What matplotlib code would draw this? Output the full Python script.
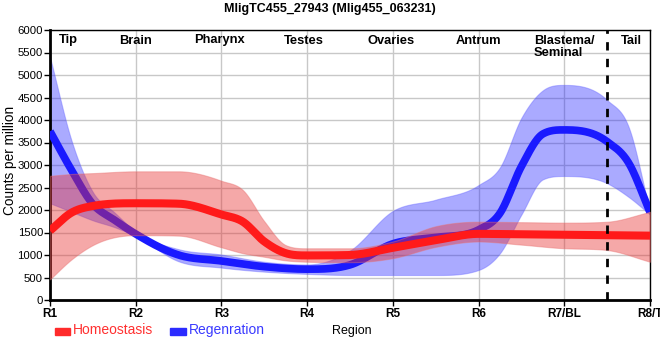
import numpy as np
import matplotlib
matplotlib.use("Agg")
import matplotlib.pyplot as plt
from matplotlib.patches import Rectangle

plt.rcParams['font.family'] = ['Liberation Sans', 'DejaVu Sans']

# ---- data ----
tick_labels = ["R1", "R2", "R3", "R4", "R5", "R6", "R7/BL", "R8/T"]
regions = ["Tip", "Brain", "Pharynx", "Testes", "Ovaries", "Antrum", "Blastema/\nSeminal", "Tail"]
region_pos = [1.22, 2.0, 2.98, 3.96, 4.98, 6.0, 7.0, 7.78]

homeo_pos  = [1, 1.25, 1.5, 2, 2.5, 3, 3.25, 3.5, 3.75, 4, 4.5, 5, 5.5, 6, 6.5, 7, 7.5, 8]
homeo_mean = [1540, 1940, 2090, 2150, 2140, 1900, 1740, 1300, 1040, 990, 1000, 1160, 1330, 1470, 1460, 1450, 1440, 1430]
homeo_hi   = [2760, 2800, 2820, 2860, 2860, 2650, 2444, 1750, 1220, 1150, 1150, 1300, 1640, 1740, 1730, 1720, 1740, 1960]
homeo_lo   = [460, 900, 1220, 1440, 1430, 1170, 1040, 960, 880, 850, 840, 930, 1180, 1300, 1230, 1150, 1110, 850]

regen_pos  = [1, 1.25, 1.5, 1.75, 2, 2.5, 3, 3.5, 4, 4.5, 5, 5.5, 6, 6.25, 6.5, 6.75, 7, 7.5, 7.75, 8]
regen_mean = [3750, 2890, 2130, 1780, 1467, 1000, 867, 740, 685, 780, 1250, 1390, 1560, 1930, 2970, 3690, 3780, 3520, 3050, 1950]
regen_hi   = [5400, 3550, 2400, 1950, 1520, 1130, 1010, 850, 790, 1100, 1980, 2230, 2555, 2950, 4050, 4660, 4780, 4444, 3850, 1960]
regen_lo   = [2150, 1960, 1770, 1620, 1420, 860, 720, 630, 580, 555, 555, 555, 667, 1040, 1900, 2680, 2755, 2593, 2290, 1900]


def smooth(x, y, xs):
    """Cubic Hermite with Catmull-Rom slopes, limited to avoid overshoot."""
    x = np.asarray(x, float); y = np.asarray(y, float)
    h = np.diff(x); d = np.diff(y) / h
    n = len(x); m = np.zeros(n)
    for k in range(1, n - 1):
        if d[k - 1] * d[k] > 0:
            m[k] = (h[k] * d[k - 1] + h[k - 1] * d[k]) / (h[k - 1] + h[k])
    m[0] = d[0]; m[-1] = d[-1]
    for k in range(n - 1):
        if d[k] == 0:
            m[k] = m[k + 1] = 0
            continue
        a = m[k] / d[k]; b = m[k + 1] / d[k]
        s = a * a + b * b
        if s > 9:
            t = 3 / np.sqrt(s)
            m[k] = t * a * d[k]; m[k + 1] = t * b * d[k]
    idx = np.clip(np.searchsorted(x, xs) - 1, 0, n - 2)
    t = (xs - x[idx]) / h[idx]
    h00 = 2 * t**3 - 3 * t**2 + 1; h10 = t**3 - 2 * t**2 + t
    h01 = -2 * t**3 + 3 * t**2; h11 = t**3 - t**2
    return h00 * y[idx] + h10 * h[idx] * m[idx] + h01 * y[idx + 1] + h11 * h[idx] * m[idx + 1]


xs = np.linspace(1, 8, 800)

fig = plt.figure(figsize=(6.6, 3.6), dpi=100)
ax = fig.add_axes([50 / 660, 60 / 360, 600 / 660, 270 / 360])

# blue band + line
ax.fill_between(xs, smooth(regen_pos, regen_lo, xs), smooth(regen_pos, regen_hi, xs),
                color='#2020ff', alpha=0.38, linewidth=0.8, edgecolor='#6060ff', zorder=2)
ax.plot(xs, smooth(regen_pos, regen_mean, xs), color='#1a1aff', lw=5.5, solid_capstyle='butt', zorder=3)
# red band + line
ax.fill_between(xs, smooth(homeo_pos, homeo_lo, xs), smooth(homeo_pos, homeo_hi, xs),
                color='#e83030', alpha=0.42, linewidth=0.8, edgecolor='#e87070', zorder=4)
ax.plot(xs, smooth(homeo_pos, homeo_mean, xs), color='#ff1a1a', lw=5.8, solid_capstyle='butt', zorder=5)

ax.axvline(7.5, color='black', lw=2, ls=(0, (3, 3)), zorder=6)

ax.set_xlim(1, 8)
ax.set_ylim(0, 6000)
ax.set_xticks(range(1, 9))
ax.set_xticklabels(tick_labels, fontweight='bold', fontsize=8.5)
ax.set_yticks(range(0, 6001, 500))
ax.tick_params(axis='y', labelsize=8.2, length=4, width=1, pad=1)
ax.tick_params(axis='x', length=4, width=1, pad=2)
ax.grid(True, color='#c8c8c8', lw=1)
ax.set_axisbelow(True)
for s in ['left', 'bottom']:
    ax.spines[s].set_linewidth(2)
for s in ['top', 'right']:
    ax.spines[s].set_linewidth(1)

for r, p in zip(regions, region_pos):
    if '\n' in r:
        ax.text(p, 5900, r, ha='center', va='top', fontsize=9.3, fontweight='bold',
                multialignment='left', zorder=7, linespacing=1.0)
    else:
        ax.text(p, 5900, r, ha='center', va='top', fontsize=9.3, fontweight='bold', zorder=7)

fig.text(10 / 660, 1 - 160 / 360, "Counts per million", rotation=90, ha='center', va='center',
         fontsize=9.8)

fig.text(330 / 660, 1 - 9 / 360, "MligTC455_27943 (Mlig455_063231)", ha='center', va='center',
         fontsize=9, fontweight='bold')
fig.text(332 / 660, 1 - 331 / 360, "Region", ha='left', va='center', fontsize=9)

# legend
fig.patches.append(Rectangle((55 / 660, 1 - 335 / 360), 15 / 660, 7 / 360, transform=fig.transFigure,
                             color='#ff2b2b'))
fig.text(73 / 660, 1 - 330 / 360, "Homeostasis", color='#ff3030', ha='left', va='center', fontsize=10)
fig.patches.append(Rectangle((170 / 660, 1 - 335 / 360), 16 / 660, 7 / 360, transform=fig.transFigure,
                             color='#2b2bff'))
fig.text(189 / 660, 1 - 330 / 360, "Regenration", color='#3a3aff', ha='left', va='center', fontsize=10)

fig.savefig("out.png", dpi=100)
